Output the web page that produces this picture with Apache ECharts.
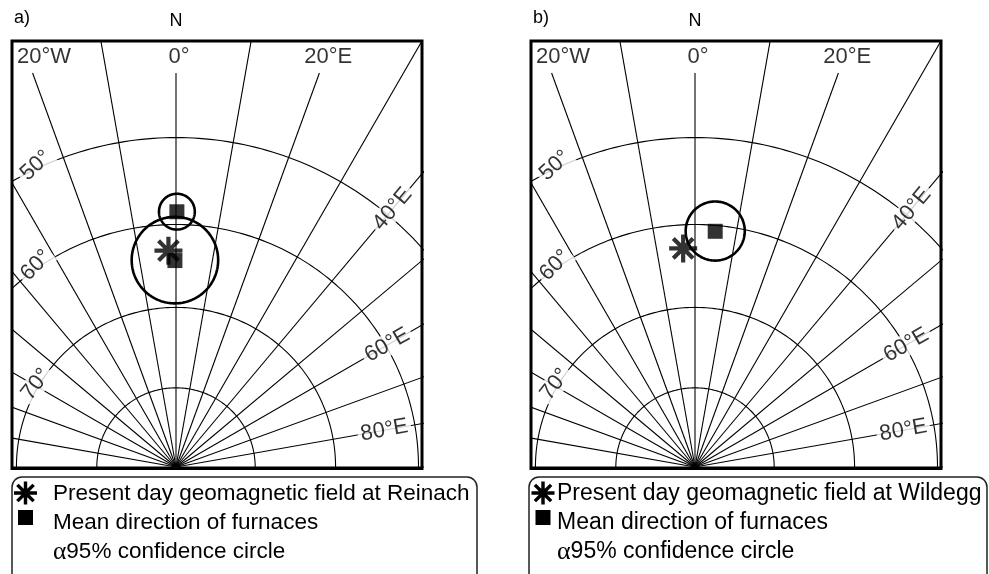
<!DOCTYPE html>
<html>
<head>
<meta charset="utf-8">
<script src="https://cdn.jsdelivr.net/npm/echarts@6/dist/echarts.min.js"></script>
<style>
  html, body { margin: 0; padding: 0; background: #fff; }
  #chart { width: 989px; height: 574px; }
</style>
</head>
<body>
<div id="chart"></div>
<script>
// ---- Stereonet grid (lower hemisphere, stereographic) ----
const spokeDecs = [-90, -80, -70, -60, -50, -40, -30, -20, -10, 0, 10, 20, 30, 40, 50, 60, 70, 80, 90];
const ringIncs = [50, 60, 70, 80];
const topLabelDecs = [-20, 0, 20];
const topLabelText = ['20°W', '0°', '20°E'];
const sideLabelDecs = [40, 60, 80];
const sideLabelText = ['40°E', '60°E', '80°E'];
const ringLabelIncs = [50, 60, 70];
const ringLabelText = ['50°', '60°', '70°'];

// ---- Sites ----
const panelTags = ['a)', 'b)'];
const siteNames = ['Reinach', 'Wildegg'];
// present-day geomagnetic field direction at each site (degrees)
const presentDec = [-2.0, -3.1];
const presentInc = [63.1, 62.8];
// mean directions of the furnaces and their alpha95 (degrees)
const meanPanel = [0, 0, 1];
const meanDec = [0.2, -0.3, 4.9];
const meanInc = [58.5, 64.3, 60.7];
const meanA95 = [2.1, 5.2, 3.5];

// ---- geometry of the two frames ----
const SCALE = 905;            // pixels per projected unit
const FRAME_TOP = 41, FRAME_H = 427.5, FRAME_W = 410;
const POLE_Y = 467;
const POLE_DX = 164;          // pole distance from frame's left edge
const frameLeft = [12, 531];
const legendBox = [
  { x: 12, w: 465, iconX: 25.5, textX: 53, font: 22.5 },
  { x: 529, w: 458, iconX: 543, textX: 557, font: 23 }
];
const FONT = '"Liberation Sans", Arial, Helvetica, sans-serif';

const RAD = Math.PI / 180;
const xMin = -POLE_DX / SCALE, xMax = (FRAME_W - POLE_DX) / SCALE;
const yMin = -(FRAME_TOP + FRAME_H - POLE_Y) / SCALE, yMax = (POLE_Y - FRAME_TOP) / SCALE;

function radiusOf(inc) { return Math.tan((90 - inc) / 2 * RAD); }
function proj(dec, inc) {
  const r = radiusOf(inc);
  return [r * Math.sin(dec * RAD), r * Math.cos(dec * RAD)];
}
// small circle of angular radius a95 around (dec, inc), projected
function confidenceCircle(dec, inc, a95) {
  const D = dec * RAD, I = inc * RAD, A = a95 * RAD;
  const m = [Math.cos(I) * Math.cos(D), Math.cos(I) * Math.sin(D), Math.sin(I)];
  const u = [-Math.sin(I) * Math.cos(D), -Math.sin(I) * Math.sin(D), Math.cos(I)];
  const v = [-Math.sin(D), Math.cos(D), 0];
  const pts = [];
  for (let k = 0; k <= 180; k++) {
    const t = k / 180 * 2 * Math.PI;
    const p = [0, 1, 2].map(i => Math.cos(A) * m[i] + Math.sin(A) * (Math.cos(t) * u[i] + Math.sin(t) * v[i]));
    pts.push([p[1] / (1 + p[2]), p[0] / (1 + p[2])]);
  }
  return pts;
}

const measureCtx = document.createElement('canvas').getContext('2d');
function textWidth(txt, size) {
  measureCtx.font = size + 'px ' + FONT;
  return measureCtx.measureText(txt).width;
}

// outline of an eight-armed asterisk, centred on (cx, cy), half-size h
function asteriskOutline(cx, cy, h) {
  const t = 0.3 * h;                       // arm thickness
  const inner = (t / 2) / Math.sin(22.5 * RAD);
  const pts = [];
  for (let k = 0; k < 8; k++) {
    const a = k * 45 * RAD;
    const ux = Math.cos(a), uy = Math.sin(a), nx = -uy, ny = ux;
    pts.push([cx + ux * h - nx * t / 2, cy + uy * h - ny * t / 2]);
    pts.push([cx + ux * h + nx * t / 2, cy + uy * h + ny * t / 2]);
    const b = a + 22.5 * RAD;
    pts.push([cx + Math.cos(b) * inner, cy + Math.sin(b) * inner]);
  }
  return pts;
}
const ASTER_PATH = 'path://' + asteriskOutline(0, 0, 100)
  .map((p, i) => (i ? 'L' : 'M') + p[0].toFixed(2) + ' ' + p[1].toFixed(2)).join('') + 'Z';

// grid curves: spokes and inclination rings
function gridLines() {
  const items = [];
  const topEnd = (POLE_Y - 73) / SCALE;
  spokeDecs.forEach(dec => {
    const c = Math.cos(dec * RAD), s = Math.sin(dec * RAD);
    const rEnd = topLabelDecs.includes(dec) ? topEnd / c : 2;
    items.push({ coords: [[0, 0], [rEnd * s, rEnd * c]] });
  });
  ringIncs.forEach(inc => {
    const r = radiusOf(inc);
    const pts = [];
    for (let a = -90; a <= 90; a += 1) pts.push([r * Math.sin(a * RAD), r * Math.cos(a * RAD)]);
    items.push({ coords: pts });
  });
  return items;
}

function labelItems() {
  const items = [];
  const tickSize = 22;
  // declination labels at the top
  const yTop = (POLE_Y - 57) / SCALE;
  topLabelDecs.forEach((dec, i) => {
    const half = textWidth(topLabelText[i], tickSize) / 2;
    let x = yTop * Math.tan(dec * RAD) + 3 / SCALE;
    x = Math.max(x, xMin + (5 + half) / SCALE);
    x = Math.min(x, xMax - (5 + half) / SCALE);
    items.push({ value: [x, yTop], name: topLabelText[i], label: { rotate: 0, backgroundColor: 'transparent' } });
  });
  // declination labels along the spokes on the right
  const reach = xMax * SCALE - 14;
  sideLabelDecs.forEach((dec, i) => {
    const half = textWidth(sideLabelText[i], tickSize) / 2;
    const d = (reach / Math.sin(dec * RAD) - half) / SCALE;
    items.push({ value: [d * Math.sin(dec * RAD), d * Math.cos(dec * RAD)], name: sideLabelText[i], label: { rotate: 90 - dec } });
  });
  // inclination labels sitting on the rings at the left
  ringLabelIncs.forEach((inc, i) => {
    const r = radiusOf(inc) + 3 / SCALE;
    const xl = -140 / SCALE;
    const y = Math.sqrt(r * r - xl * xl);
    const phi = Math.asin(-xl / r) / RAD;
    items.push({ value: [xl, y], name: ringLabelText[i], label: { rotate: 36 + 0.26 * phi } });
  });
  return items;
}

const grids = [], xAxes = [], yAxes = [], series = [], graphics = [];
const GRID_ITEMS = gridLines();
const LABEL_ITEMS = labelItems();

frameLeft.forEach((left, p) => {
  grids.push({ left: left, top: FRAME_TOP, width: FRAME_W, height: FRAME_H, show: false });
  xAxes.push({ gridIndex: p, type: 'value', min: xMin, max: xMax, show: false });
  yAxes.push({ gridIndex: p, type: 'value', min: yMin, max: yMax, show: false });

  series.push({
    type: 'lines', coordinateSystem: 'cartesian2d', xAxisIndex: p, yAxisIndex: p,
    polyline: true, clip: true, silent: true, z: 1,
    lineStyle: { color: '#000', width: 1.1, opacity: 1 },
    data: GRID_ITEMS
  });
  series.push({
    type: 'scatter', xAxisIndex: p, yAxisIndex: p, silent: true, z: 3,
    symbolSize: 1, itemStyle: { color: 'rgba(0,0,0,0)' },
    label: {
      show: true, position: 'inside', formatter: '{b}', color: '#000',
      fontFamily: FONT, fontSize: 22, backgroundColor: '#fff', padding: [0, 3]
    },
    data: LABEL_ITEMS
  });

  const circles = [], squares = [];
  meanPanel.forEach((mp, i) => {
    if (mp !== p) return;
    circles.push({ coords: confidenceCircle(meanDec[i], meanInc[i], meanA95[i]) });
    squares.push(proj(meanDec[i], meanInc[i]));
  });
  series.push({
    type: 'lines', coordinateSystem: 'cartesian2d', xAxisIndex: p, yAxisIndex: p,
    polyline: true, clip: true, silent: true, z: 4,
    lineStyle: { color: '#000', width: 2.6, opacity: 1 },
    data: circles
  });
  series.push({
    type: 'scatter', xAxisIndex: p, yAxisIndex: p, silent: true, z: 5,
    symbol: 'rect', symbolSize: 15, itemStyle: { color: '#000' },
    data: squares
  });
  series.push({
    type: 'scatter', xAxisIndex: p, yAxisIndex: p, silent: true, z: 6,
    symbol: ASTER_PATH, symbolSize: 28, itemStyle: { color: '#000' },
    data: [proj(presentDec[p], presentInc[p])]
  });

  // frame, north marker, panel tag
  graphics.push({ type: 'rect', z: 100, silent: true,
    shape: { x: left, y: FRAME_TOP, width: FRAME_W, height: FRAME_H },
    style: { fill: 'none', stroke: '#000', lineWidth: 3 } });
  graphics.push({ type: 'text', z: 100, silent: true, x: left + POLE_DX, y: 21,
    style: { text: 'N', fill: '#000', fontFamily: FONT, fontSize: 18, align: 'center', verticalAlign: 'middle' } });
  graphics.push({ type: 'text', z: 100, silent: true, x: left + 2, y: 18,
    style: { text: panelTags[p], fill: '#000', fontFamily: FONT, fontSize: 18, align: 'left', verticalAlign: 'middle' } });

  // legend box
  const lg = legendBox[p];
  graphics.push({ type: 'rect', z: 100, silent: true,
    shape: { x: lg.x, y: 477, width: lg.w, height: 130, r: 10 },
    style: { fill: 'none', stroke: '#222', lineWidth: 1.5 } });
  graphics.push({ type: 'polygon', z: 100, silent: true,
    shape: { points: asteriskOutline(lg.iconX, 493, 11.5) },
    style: { fill: '#000' } });
  graphics.push({ type: 'rect', z: 100, silent: true,
    shape: { x: lg.iconX - 7.5, y: 510, width: 15, height: 15 },
    style: { fill: '#000' } });
  const rows = [
    'Present day geomagnetic field at ' + siteNames[p],
    'Mean direction of furnaces',
    '{g|α}95% confidence circle'
  ];
  const rowY = [494, 523, 552];
  rows.forEach((txt, r) => {
    graphics.push({ type: 'text', z: 100, silent: true, x: lg.textX, y: rowY[r],
      style: { text: txt, fill: '#000', fontFamily: FONT, fontSize: lg.font, align: 'left', verticalAlign: 'middle',
        rich: { g: { fontFamily: '"Liberation Serif", "DejaVu Serif", serif', fontSize: lg.font + 3, fill: '#000' } } } });
  });
});

const chart = echarts.init(document.getElementById('chart'), null, { renderer: 'canvas' });
chart.setOption({
  animation: false,
  backgroundColor: '#fff',
  textStyle: { fontFamily: FONT },
  grid: grids,
  xAxis: xAxes,
  yAxis: yAxes,
  series: series,
  graphic: graphics
});
</script>
</body>
</html>
